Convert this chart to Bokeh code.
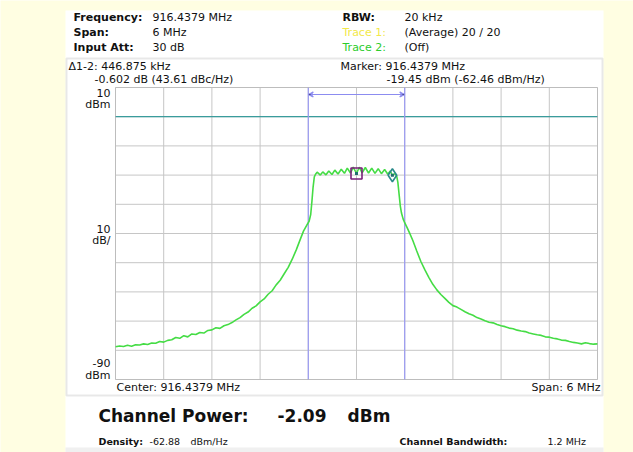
from bokeh.plotting import figure
from bokeh.models import (Label, BoxAnnotation, Arrow, VeeHead, Range1d)
from bokeh.embed import file_html
from bokeh.resources import INLINE

# ---------------- data ----------------
center_mhz = 916.4379
span_mhz = 6.0
ref_level_dbm = 10
db_per_div = 10
n_div = 10
channel_bw_mhz = 1.2
ref_line_dbm = 0

freq_offset_mhz = [
    -3.00, -2.95, -2.90, -2.85, -2.80, -2.75, -2.70, -2.65, -2.60, -2.55,
    -2.50, -2.45, -2.40, -2.35, -2.30, -2.25, -2.20, -2.15, -2.10, -2.05,
    -2.00, -1.95, -1.90, -1.85, -1.80, -1.75, -1.70, -1.65, -1.60, -1.55,
    -1.50, -1.45, -1.40, -1.35, -1.30, -1.25, -1.20, -1.15, -1.10, -1.05,
    -1.00, -0.95, -0.90, -0.85, -0.80, -0.75, -0.70, -0.66, -0.62, -0.59,
    -0.57, -0.555, -0.54, -0.525, -0.51,
    -0.49, -0.45, -0.42, -0.38, -0.345, -0.305, -0.27, -0.23, -0.19, -0.15,
    -0.115, -0.075, -0.04, 0.0, 0.035, 0.07, 0.11, 0.15, 0.19, 0.23,
    0.27, 0.31, 0.35, 0.39, 0.42, 0.447, 0.48,
    0.50, 0.515, 0.53, 0.545, 0.56, 0.58, 0.60, 0.63, 0.66, 0.70,
    0.75, 0.80, 0.85, 0.90, 0.95, 1.00, 1.05, 1.10, 1.15, 1.20,
    1.25, 1.30, 1.35, 1.40, 1.45, 1.50, 1.55, 1.60, 1.65, 1.70,
    1.75, 1.80, 1.85, 1.90, 1.95, 2.00, 2.05, 2.10, 2.15, 2.20,
    2.25, 2.30, 2.35, 2.40, 2.45, 2.50, 2.55, 2.60, 2.65, 2.70,
    2.75, 2.80, 2.85, 2.90, 2.95, 3.00,
]
level_dbm = [
    -78.8, -78.5, -78.7, -78.3, -78.6, -78.1, -78.2, -77.8, -78.0, -77.5,
    -77.6, -77.0, -77.2, -76.6, -76.4, -75.6, -75.9, -75.0, -75.4, -74.4,
    -74.6, -73.9, -74.1, -73.2, -73.0, -72.3, -72.5, -71.6, -71.2, -70.5,
    -69.6, -68.8, -67.7, -66.9, -65.6, -64.8, -63.4, -62.4, -60.8, -59.6,
    -57.6, -56.0, -53.8, -51.6, -48.8, -45.6, -42.0, -39.2, -37.2, -35.8,
    -33.5, -29.0, -24.0, -20.6, -19.7,
    -19.0, -20.0, -18.9, -19.9, -18.6, -19.8, -18.3, -19.6, -18.0, -19.4,
    -17.6, -19.3, -17.3, -19.45, -17.3, -19.2, -17.4, -19.3, -17.6, -19.4,
    -17.8, -19.5, -18.1, -19.7, -18.6, -20.05, -19.5,
    -20.3, -22.5, -26.5, -30.5, -33.0, -35.0, -36.3, -38.0, -39.8, -42.3,
    -46.0, -49.5, -52.4, -55.0, -57.4, -59.3, -60.9, -62.2, -63.6, -64.7,
    -65.2, -66.0, -66.8, -67.5, -68.0, -68.8, -69.3, -69.9, -70.4, -70.6,
    -71.2, -71.6, -71.9, -72.4, -72.6, -73.1, -73.4, -73.6, -74.1, -74.4,
    -74.7, -74.9, -75.4, -75.5, -75.9, -76.1, -76.5, -76.6, -77.0, -77.3,
    -77.5, -77.8, -77.4, -77.7, -77.9, -77.8,
]
marker1_offset_mhz = 0.0
marker1_dbm = -19.45
marker2_offset_mhz = 0.446875
marker2_dbm = -20.05

# ---------------- layout constants ----------------
W, H = 633, 452
FL, FR, FT, FB = 115, 597, 87, 379   # graticule edges in canvas px
FONT = "DejaVu Sans"

x0 = -span_mhz / 2
x1 = span_mhz / 2
y1 = ref_level_dbm
y0 = ref_level_dbm - db_per_div * n_div

# the frame covers the whole canvas; ranges extended so graticule sits at FL..FR / FT..FB
px_per_mhz = (FR - FL) / span_mhz
px_per_db = (FB - FT) / (db_per_div * n_div)
xr = Range1d(x0 - FL / px_per_mhz, x1 + (W - FR) / px_per_mhz)
yr = Range1d(y0 - (H - FB) / px_per_db, y1 + FT / px_per_db)

p = figure(width=W, height=H, output_backend="svg", toolbar_location=None,
           x_range=xr, y_range=yr,
           min_border_left=0, min_border_right=0, min_border_top=0, min_border_bottom=0,
           background_fill_color="#FFFEE2", border_fill_color="#FFFEE2")
p.xaxis.visible = False
p.yaxis.visible = False
p.xgrid.visible = False
p.ygrid.visible = False
p.outline_line_color = None

def sx(cx):
    return cx

def sy(cy):
    return H - cy

# white panel and inner box
p.add_layout(BoxAnnotation(left=sx(65), right=sx(603), top=sy(10), bottom=sy(452),
                           left_units="screen", right_units="screen",
                           top_units="screen", bottom_units="screen",
                           fill_color="white", fill_alpha=1, line_color=None, level="image"))
p.add_layout(BoxAnnotation(left=sx(65), right=sx(603), top=sy(447), bottom=sy(452),
                           left_units="screen", right_units="screen",
                           top_units="screen", bottom_units="screen",
                           fill_color="#f0f0f0", fill_alpha=1, line_color=None, level="image"))
p.add_layout(BoxAnnotation(left=sx(66), right=sx(602), top=sy(58), bottom=sy(395),
                           left_units="screen", right_units="screen",
                           top_units="screen", bottom_units="screen",
                           fill_alpha=0, line_color="#b4b4b4", line_width=2, level="image"))

# graticule (grid drawn within the measurement area only)
xt = [x0 + i * span_mhz / n_div for i in range(n_div + 1)]
yt = [y0 + i * db_per_div for i in range(n_div + 1)]
p.segment(x0=xt, x1=xt, y0=[y0] * len(xt), y1=[y1] * len(xt), line_color="#c6c6c6", line_width=1)
p.segment(x0=[x0] * len(yt), x1=[x1] * len(yt), y0=yt, y1=yt, line_color="#c6c6c6", line_width=1)
p.add_layout(BoxAnnotation(left=x0, right=x1, bottom=y0, top=y1, fill_alpha=0,
                           line_color="#a8a8a8", line_width=1))

# reference line & channel edges
p.segment(x0=[x0], x1=[x1], y0=[ref_line_dbm], y1=[ref_line_dbm], line_color="#3a9c9c", line_width=1.3)
edges = [-channel_bw_mhz / 2, channel_bw_mhz / 2]
p.segment(x0=edges, x1=edges, y0=[y0, y0], y1=[y1, y1], line_color="#9a9af2", line_width=1.2)
arrow_y = ref_level_dbm - 0.24 * db_per_div
p.add_layout(Arrow(x_start=-channel_bw_mhz / 2, x_end=channel_bw_mhz / 2, y_start=arrow_y, y_end=arrow_y,
                   line_color="#8c8cf0", line_width=1.2,
                   start=VeeHead(size=5, line_color="#8c8cf0", line_width=1.2),
                   end=VeeHead(size=5, line_color="#8c8cf0", line_width=1.2)))

# trace
p.line(freq_offset_mhz, level_dbm, line_color="#45dc45", line_width=1.6)

# markers
p.scatter([marker1_offset_mhz], [marker1_dbm], marker="square", size=11,
          fill_alpha=0, line_color="#7a1f7a", line_width=1.6)
p.scatter([marker1_offset_mhz], [marker1_dbm], marker="square", size=3,
          fill_color="#1f6f6f", line_color=None)
p.scatter([marker2_offset_mhz], [marker2_dbm], marker="diamond", size=13,
          fill_alpha=0, line_color="#2a8a8a", line_width=1.6)
p.scatter([marker2_offset_mhz], [marker2_dbm], marker="square", size=3,
          fill_color="#1f6f6f", line_color=None)

def lab(cx, cy, text, size=11, bold=False, color="#111111", align="left"):
    p.add_layout(Label(x=sx(cx), y=sy(cy), x_units="screen", y_units="screen", text=text,
                       text_font=FONT, text_font_size=f"{size}px",
                       text_font_style="bold" if bold else "normal",
                       text_color=color, text_align=align, text_baseline="middle"))

# header
lab(73, 17, "Frequency:", bold=True)
lab(152, 17, f"{center_mhz} MHz")
lab(73, 32, "Span:", bold=True)
lab(152, 32, f"{span_mhz:g} MHz")
lab(73, 47, "Input Att:", bold=True)
lab(152, 47, "30 dB")
lab(342, 17, "RBW:", bold=True)
lab(404, 17, "20 kHz")
lab(342, 32, "Trace 1:", color="#f2e84a")
lab(404, 32, "(Average)  20 / 20")
lab(342, 47, "Trace 2:", color="#2ccc2c")
lab(404, 47, "(Off)")

# marker readouts
lab(68, 66, "\u03941-2: 446.875 kHz")
lab(94, 79, "-0.602 dB (43.61 dBc/Hz)")
lab(340, 66, f"Marker: {center_mhz} MHz")
lab(386, 79, f"{marker1_dbm} dBm (-62.46 dBm/Hz)")

# y labels
lab(110, 92, f"{ref_level_dbm}", align="right")
lab(110, 104, "dBm", align="right")
lab(110, 228, f"{db_per_div}", align="right")
lab(110, 240, "dB/", align="right")
lab(110, 362, f"{y0}", align="right")
lab(110, 375, "dBm", align="right")

# bottom of graticule
lab(116, 387, f"Center: {center_mhz} MHz")
lab(600, 387, f"Span: {span_mhz:g} MHz", align="right")

# channel power
lab(98, 415, "Channel Power:", size=17, bold=True)
lab(277, 415, "-2.09", size=17, bold=True)
lab(347, 415, "dBm", size=17, bold=True)
lab(98, 441, "Density:", size=9.5, bold=True)
lab(149, 441, "-62.88", size=9.5)
lab(190, 441, "dBm/Hz", size=9.5)
lab(399, 441, "Channel Bandwidth:", size=9.5, bold=True)
lab(547, 441, f"{channel_bw_mhz} MHz", size=9.5)

open("out.html", "w").write(file_html(p, INLINE))
